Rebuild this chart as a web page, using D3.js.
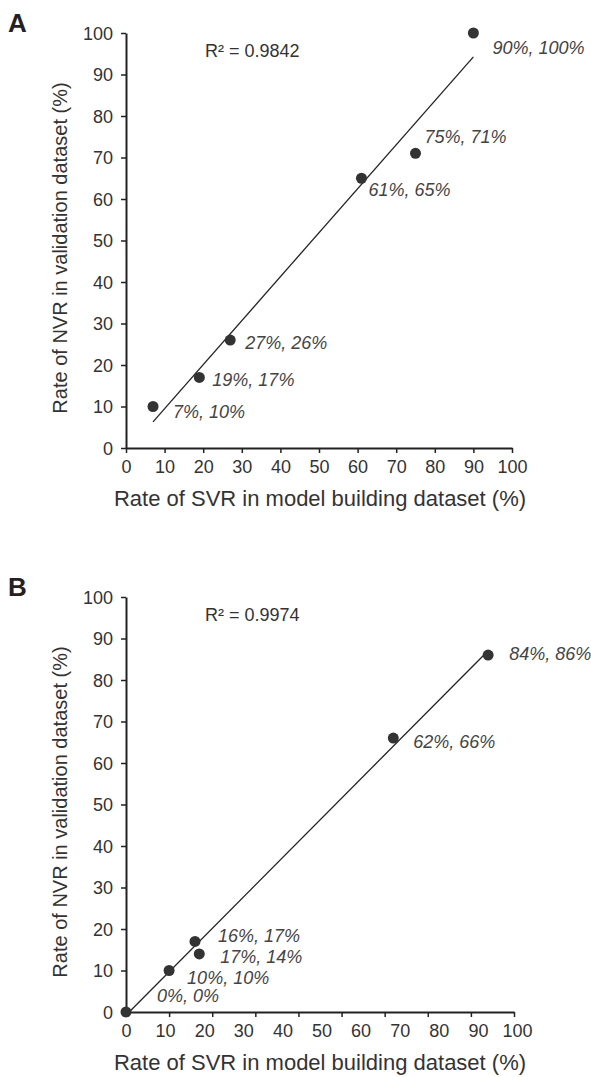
<!DOCTYPE html>
<html>
<head>
<meta charset="utf-8">
<script src="https://cdn.jsdelivr.net/npm/d3@7"></script>
<style>
  body { margin: 0; background: #fff; }
  svg { font-family: "Liberation Sans", Arial, sans-serif; }
  .tick text { fill: #333; }
</style>
</head>
<body>
<div id="chart"></div>
<script>
// values
var panelA_svr = [7, 19, 27, 61, 75, 90]
var panelA_nvr = [10, 17, 26, 65, 71, 100]
var panelA_r2 = "R\u00b2 = 0.9842"

var panelB_svr = [0, 10, 16, 17, 62, 84]
var panelB_nvr = [0, 10, 17, 14, 66, 86]
var panelB_r2 = "R\u00b2 = 0.9974"

var tickLabels = [0, 10, 20, 30, 40, 50, 60, 70, 80, 90, 100]
// panel B in the original has only 10 tick marks under 11 labels
var panelB_tickMarks = [0, 10, 20, 30, 40, 50, 60, 70, 80, 90]

// label placement (offset from point centre to text start / baseline)
var labelOffsetsA = [[20, 11], [13, 9], [15, 9], [7, 18], [9, -10], [19, 21]]
var labelOffsetsB = [[31, -10], [18, 13], [23, 1], [21, 9], [20, 10], [21, 5]]

var W = 591, H = 1077

var svg = d3.select("#chart").append("svg")
  .attr("width", W)
  .attr("height", H)

function linearFit(xs, ys) {
  var mx = d3.mean(xs), my = d3.mean(ys)
  var sxy = d3.sum(xs, function (x, i) { return (x - mx) * (ys[i] - my) })
  var sxx = d3.sum(xs, function (x) { return (x - mx) * (x - mx) })
  var b = sxy / sxx
  return { slope: b, intercept: my - b * mx }
}

function drawPanel(p) {
  var g = svg.append("g")

  var x = d3.scaleLinear().domain(p.xDomain).range([126, p.xEnd])
  var xLab = d3.scaleLinear().domain([0, 100]).range([126, p.xLabEnd])
  var y = d3.scaleLinear().domain([0, 100]).range([p.top + 415, p.top])

  // panel letter
  g.append("text")
    .attr("x", 8)
    .attr("y", p.top - 1)
    .style("font-size", "26px")
    .style("font-weight", "bold")
    .attr("fill", "#222")
    .text(p.letter)

  // y axis
  var yAxis = g.append("g")
    .attr("transform", "translate(126,0)")
    .call(d3.axisLeft(y).tickValues(tickLabels).tickSize(5).tickPadding(8).tickSizeOuter(0))
  yAxis.selectAll("text").style("font-size", "18px").attr("dy", "0.36em")

  // x axis: tick marks from the data scale, labels from their own scale
  var xAxis = g.append("g")
    .attr("transform", "translate(0," + y(0) + ")")
    .call(d3.axisBottom(x).tickValues(p.xTicks).tickSize(5).tickFormat("").tickSizeOuter(0))
  var xLabels = g.append("g")
    .attr("transform", "translate(0," + y(0) + ")")
    .call(d3.axisBottom(xLab).tickValues(tickLabels).tickSize(0).tickPadding(12))
  xLabels.select(".domain").remove()
  xLabels.selectAll("text").style("font-size", "18px")

  g.selectAll(".domain").attr("stroke", "#222").attr("stroke-width", 2)
  g.selectAll(".tick line").attr("stroke", "#222").attr("stroke-width", 1.5)

  // axis titles
  g.append("text")
    .attr("x", 320)
    .attr("y", y(0) + 58)
    .attr("text-anchor", "middle")
    .style("font-size", "22px")
    .attr("fill", "#333")
    .text("Rate of SVR in model building dataset (%)")

  g.append("text")
    .attr("transform", "translate(67," + (p.top + 215) + ") rotate(-90)")
    .attr("text-anchor", "middle")
    .style("font-size", "20px")
    .attr("fill", "#333")
    .text("Rate of NVR in validation dataset (%)")

  // R squared
  g.append("text")
    .attr("x", 205)
    .attr("y", p.top + 24)
    .style("font-size", "18px")
    .attr("fill", "#333")
    .text(p.r2)

  // trend line
  var fit = linearFit(p.xs, p.ys)
  var x0 = d3.min(p.xs), x1 = d3.max(p.xs)
  g.append("line")
    .attr("x1", x(x0))
    .attr("y1", y(fit.intercept + fit.slope * x0))
    .attr("x2", x(x1))
    .attr("y2", y(fit.intercept + fit.slope * x1))
    .attr("stroke", "#222")
    .attr("stroke-width", 1.3)

  var pts = p.xs.map(function (v, i) { return { x: v, y: p.ys[i], off: p.offsets[i] } })

  g.selectAll(".dot")
    .data(pts)
    .enter()
    .append("circle")
    .attr("class", "dot")
    .attr("cx", function (d) { return x(d.x) })
    .attr("cy", function (d) { return y(d.y) })
    .attr("r", 5.5)
    .attr("fill", "#333")

  g.selectAll(".lbl")
    .data(pts)
    .enter()
    .append("text")
    .attr("class", "lbl")
    .attr("x", function (d) { return x(d.x) + d.off[0] })
    .attr("y", function (d) { return y(d.y) + d.off[1] })
    .style("font-size", "18px")
    .style("font-style", "italic")
    .attr("fill", "#444")
    .text(function (d) { return d.x + "%, " + d.y + "%" })
}

drawPanel({
  letter: "A", top: 33, xs: panelA_svr, ys: panelA_nvr, r2: panelA_r2,
  xDomain: [0, 100], xEnd: 512, xLabEnd: 512, xTicks: tickLabels, offsets: labelOffsetsA
})

drawPanel({
  letter: "B", top: 597, xs: panelB_svr, ys: panelB_nvr, r2: panelB_r2,
  xDomain: [0, 90], xEnd: 514, xLabEnd: 517, xTicks: panelB_tickMarks, offsets: labelOffsetsB
})
</script>
</body>
</html>
